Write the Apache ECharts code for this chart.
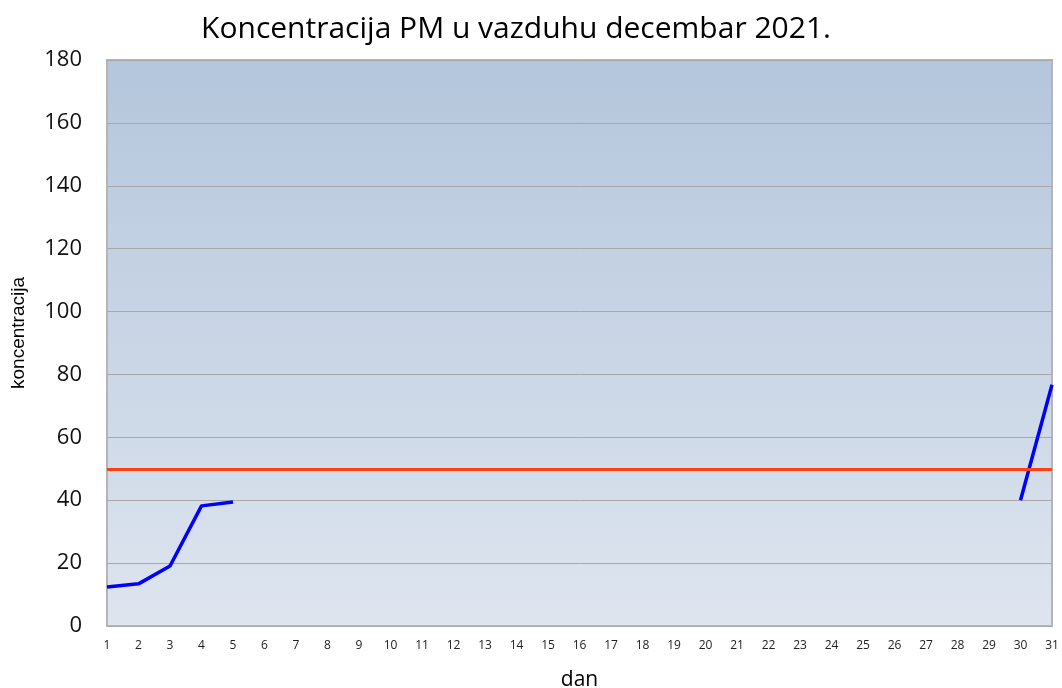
<!DOCTYPE html>
<html><head><meta charset="utf-8">
<script src="https://cdn.jsdelivr.net/npm/echarts@6/dist/echarts.min.js"></script>
<style>html,body{margin:0;padding:0;background:#fff}#c{width:1062px;height:688px}</style>
</head><body><div id="c"></div>
<script>
const days = ['1','2','3','4','5','6','7','8','9','10','11','12','13','14','15','16','17','18','19','20','21','22','23','24','25','26','27','28','29','30','31'];
const pm = [12.4,13.4,19.1,38.2,39.4,null,null,null,null,null,null,null,null,null,null,null,null,null,null,null,null,null,null,null,null,null,null,null,null,40,76.7];
const limitValue = 50;
const yTicks = {min:0, max:180, interval:20};

const chart = echarts.init(document.getElementById('c'));
chart.setOption({
  animation:false,
  title:{text:'Koncentracija PM u vazduhu decembar 2021.', left:511, top:9, textAlign:'center',
    textStyle:{fontFamily:'Open Sans', fontSize:30, fontWeight:'normal', color:'#000'}},
  grid:{left:107, right:10, top:60, bottom:62, outerBoundsMode:'none', containLabel:false,
    show:true, borderColor:'#b5b5b5', borderWidth:2,
    backgroundColor:new echarts.graphic.LinearGradient(0,0,0,1,[{offset:0,color:'#b4c6dc'},{offset:1,color:'#dee5ef'}])},
  xAxis:{type:'category', data:days, boundaryGap:false, name:'dan', nameLocation:'middle', nameGap:44,
    nameTextStyle:{fontFamily:'Open Sans', fontSize:21, color:'#000'},
    axisLine:{show:false}, axisTick:{show:false},
    axisLabel:{interval:0, fontFamily:'Open Sans', fontSize:12, color:'#222', margin:14}},
  yAxis:{type:'value', min:yTicks.min, max:yTicks.max, interval:yTicks.interval,
    name:'koncentracija', nameLocation:'middle', nameGap:79, nameRotate:90,
    nameTextStyle:{fontFamily:'Liberation Sans', fontSize:19, color:'#000', padding:[0,0,0,20]},
    axisLine:{show:false}, axisTick:{show:false},
    axisLabel:{fontFamily:'Open Sans', fontSize:22, color:'#111', margin:25},
    splitLine:{lineStyle:{color:'#a8a8a8', width:1}}},
  series:[{type:'line', data:pm, connectNulls:false, showSymbol:false, symbol:'none',
    lineStyle:{color:'#0000ff', width:3.5}, z:3,
    markLine:{silent:true, symbol:'none', label:{show:false},
      lineStyle:{color:'#ff4010', width:3, type:'solid'}, data:[{yAxis:limitValue}]}}]
});
</script></body></html>
